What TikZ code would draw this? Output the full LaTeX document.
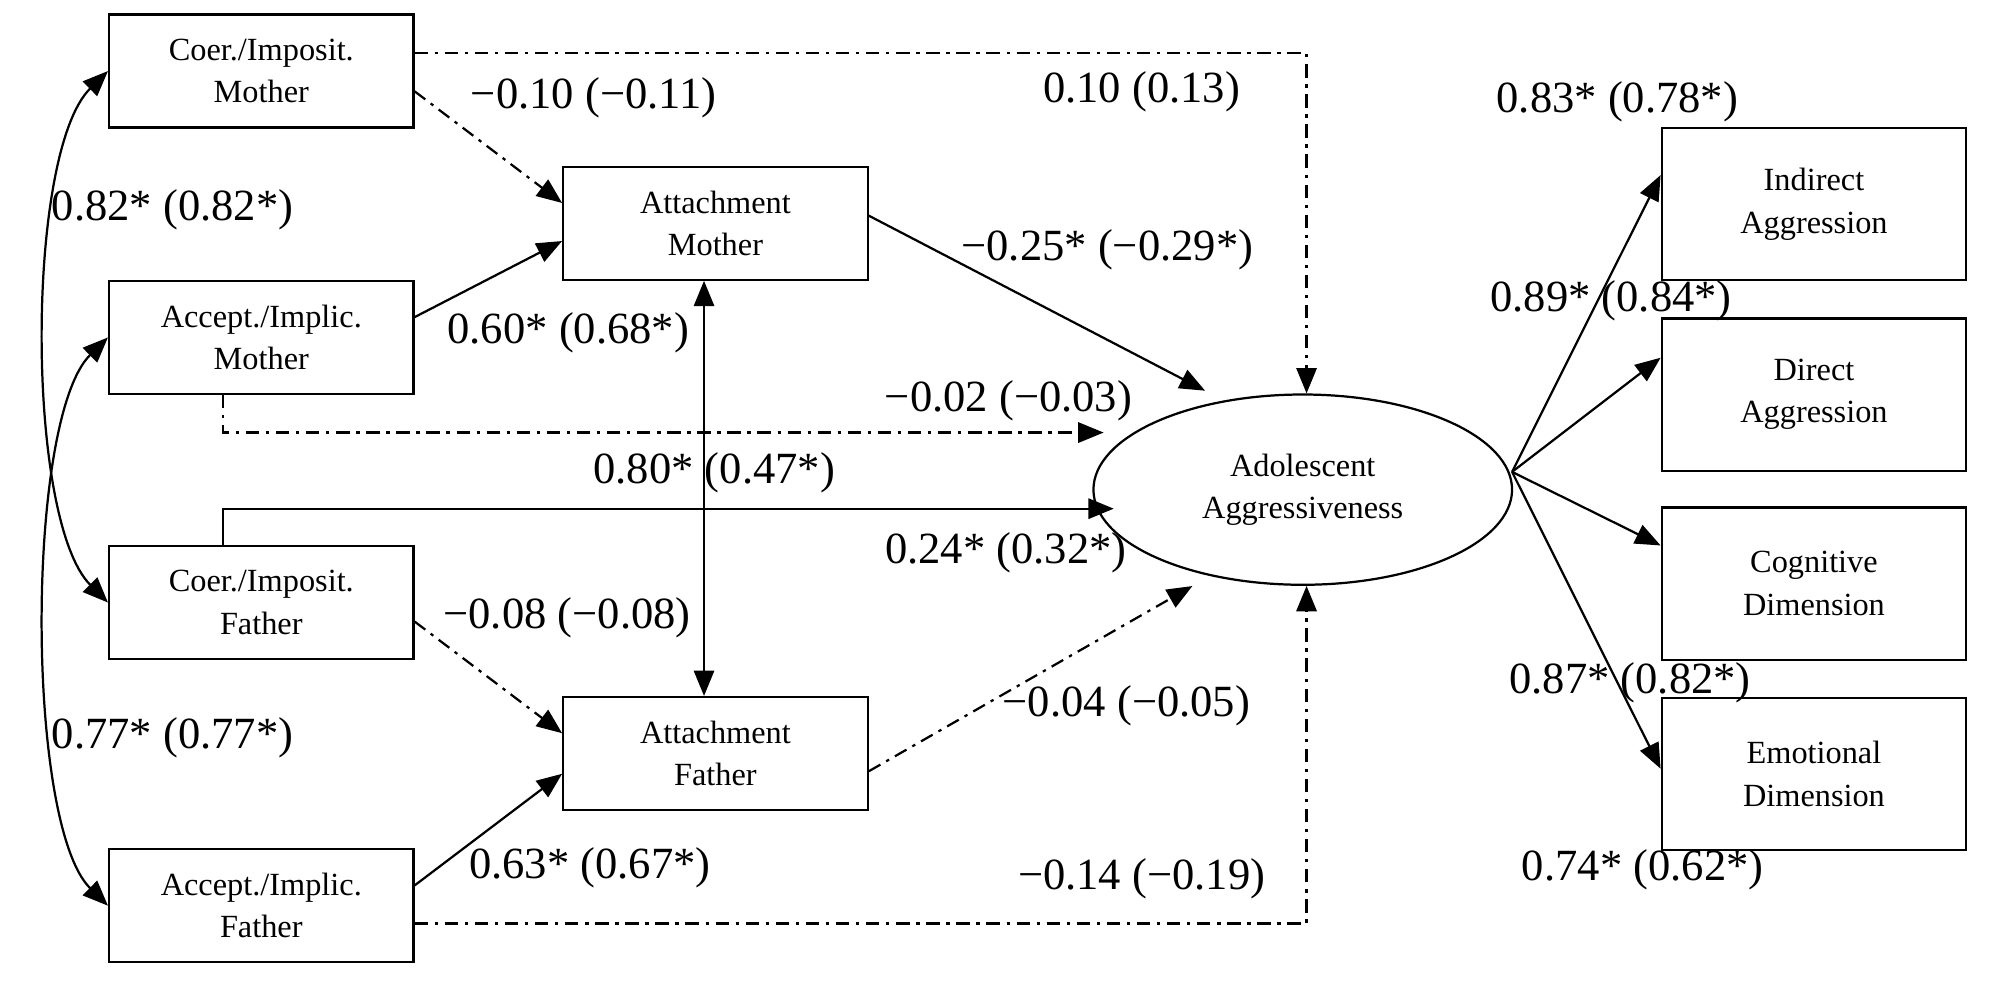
\documentclass[tikz,border=0pt]{standalone}
\usepackage{fontspec}
\setmainfont{Liberation Serif}
\usetikzlibrary{arrows.meta,shapes.geometric}
\begin{document}
\begin{tikzpicture}[x=0.2mm,y=-0.2mm,
  box/.style={draw,line width=1pt,minimum width=48mm,minimum height=17.8mm,align=center,font=\fontsize{14.5}{19}\selectfont,inner sep=0},
  rbox/.style={box,minimum height=24mm},
  lab/.style={font=\fontsize{20}{24}\selectfont,inner sep=0},
  con/.style={line width=1pt,-{Triangle[length=4mm,width=3.2mm]}},
  dd/.style={dash pattern=on 6pt off 3pt on 1.5pt off 3pt}]
\useasboundingbox (0,0) rectangle (1568,773);
\node[box] (cm) at (206,56) {Coer./Imposit.\\Mother};
\node[box] (am) at (206,266) {Accept./Implic.\\Mother};
\node[box] (cf) at (206,475) {Coer./Imposit.\\Father};
\node[box] (af) at (206,714) {Accept./Implic.\\Father};
\node[box] (tm) at (564,176) {Attachment\\Mother};
\node[box] (tf) at (564,594) {Attachment\\Father};
\node[draw,ellipse,line width=1pt,minimum width=66mm,minimum height=30mm,align=center,font=\fontsize{14.5}{19}\selectfont,inner sep=0] (ag) at (1027,386) {Adolescent\\Aggressiveness};
\node[rbox] (r1) at (1430,161) {Indirect\\Aggression};
\node[rbox] (r2) at (1430,311) {Direct\\Aggression};
\node[rbox] (r3) at (1430,460) {Cognitive\\Dimension};
\node[rbox] (r4) at (1430,610) {Emotional\\Dimension};
\coordinate (ec) at (1192,372);
% paths
\draw[con,dd] (cm.east|-0,42) -- (1030,42) -- (ag.north-|1030,0);
\draw[con,dd] (cm.east|-0,72) -- (tm.west|-0,160);
\draw[con] (am.east|-0,250) -- (tm.west|-0,190);
\draw[con,dd] (am.south-|176,0) -- (176,341) -- (870,341);
\draw[con] (cf.north-|176,0) -- (176,401) -- (878,401);
\draw[con,dd] (cf.east|-0,490) -- (tf.west|-0,578);
\draw[con] (af.east|-0,698) -- (tf.west|-0,610);
\draw[con,dd] (af.east|-0,728) -- (1030,728) -- (ag.south-|1030,0);
\draw[con] (tm.east|-0,170) -- (950,308);
\draw[con,dd] (tf.east|-0,608) -- (940,462);
\draw[con,{Triangle[length=4mm,width=3.2mm]}-{Triangle[length=4mm,width=3.2mm]}] (tm.south-|555,0) -- (tf.north-|555,0);
\draw[con] (ec) -- (r1.west|-0,138);
\draw[con] (ec) -- (r2.west|-0,282);
\draw[con] (ec) -- (r3.west|-0,430);
\draw[con] (ec) -- (r4.west|-0,606);
\draw[con,{Triangle[length=4mm,width=3.2mm]}-{Triangle[length=4mm,width=3.2mm]}] (cm.west) .. controls (20,120) and (20,410) .. (cf.west);
\draw[con,{Triangle[length=4mm,width=3.2mm]}-{Triangle[length=4mm,width=3.2mm]}] (am.west) .. controls (20,330) and (20,650) .. (af.west);
% labels
\node[lab] (l1) at (468,77) {−0.10 (−0.11)};
\node[lab] (l2) at (900,72) {0.10 (0.13)};
\node[lab] (l3) at (1275,80) {0.83* (0.78*)};
\node[lab] (l4) at (136,165) {0.82* (0.82*)};
\node[lab] (l5) at (873,197) {−0.25* (−0.29*)};
\node[lab] (l6) at (1270,237) {0.89* (0.84*)};
\node[lab] (l7) at (448,262) {0.60* (0.68*)};
\node[lab] (l8) at (795,316) {−0.02 (−0.03)};
\node[lab] (l9) at (563,373) {0.80* (0.47*)};
\node[lab] (l10) at (793,436) {0.24* (0.32*)};
\node[lab] (l11) at (447,487) {−0.08 (−0.08)};
\node[lab] (l12) at (1285,538) {0.87* (0.82*)};
\node[lab] (l13) at (888,556) {−0.04 (−0.05)};
\node[lab] (l14) at (136,582) {0.77* (0.77*)};
\node[lab] (l15) at (465,684) {0.63* (0.67*)};
\node[lab] (l16) at (900,693) {−0.14 (−0.19)};
\node[lab] (l17) at (1295,686) {0.74* (0.62*)};
\end{tikzpicture}
\end{document}
